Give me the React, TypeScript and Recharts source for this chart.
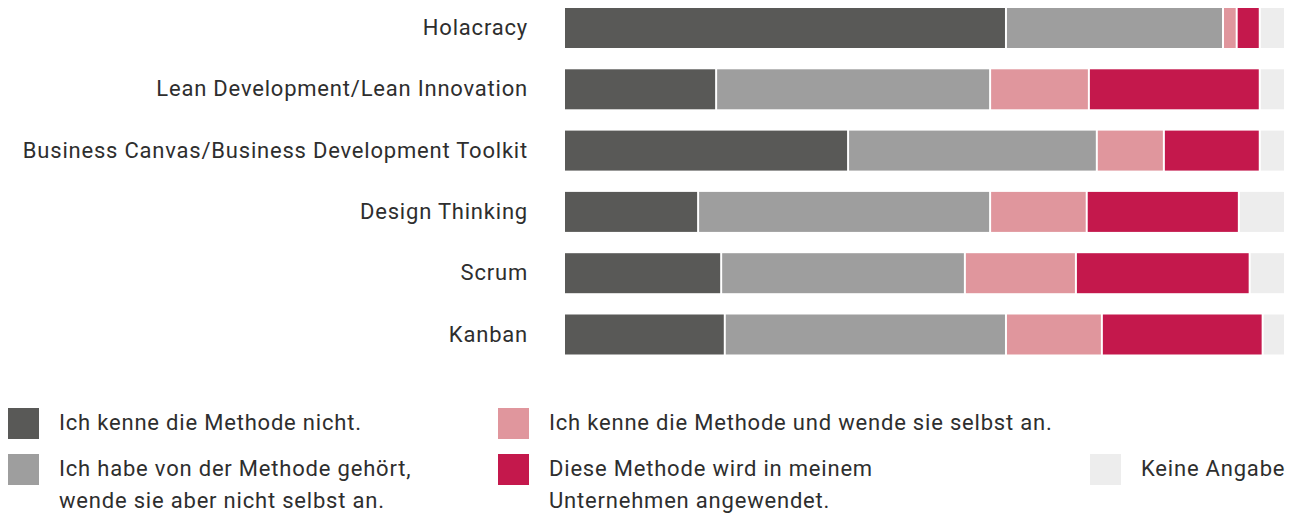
import React from 'react';
import { BarChart, Bar, XAxis, YAxis } from 'recharts';

const categories = [
  'Holacracy',
  'Lean Development/Lean Innovation',
  'Business Canvas/Business Development Toolkit',
  'Design Thinking',
  'Scrum',
  'Kanban',
];

// share of answers in percent, one value per category
const kenneNicht = [61.3, 21.1, 39.4, 18.6, 21.8, 22.3];
const gehoert = [30.1, 38.0, 34.5, 40.5, 33.8, 39.0];
const wendeAn = [1.9, 13.7, 9.3, 13.4, 15.4, 13.3];
const imUnternehmen = [3.2, 23.7, 13.3, 21.1, 24.1, 22.3];
const keineAngabe = [3.5, 3.5, 3.5, 6.4, 4.9, 3.1];

const series = [
  { key: 'kenneNicht', color: '#595957', label: 'Ich kenne die Methode nicht.' },
  { key: 'gehoert', color: '#9e9e9e', label: 'Ich habe von der Methode gehört,\nwende sie aber nicht selbst an.' },
  { key: 'wendeAn', color: '#e0969d', label: 'Ich kenne die Methode und wende sie selbst an.' },
  { key: 'imUnternehmen', color: '#c4184c', label: 'Diese Methode wird in meinem\nUnternehmen angewendet.' },
  { key: 'keineAngabe', color: '#ededed', label: 'Keine Angabe' },
];

const data = categories.map((name, i) => ({
  name,
  kenneNicht: kenneNicht[i],
  gehoert: gehoert[i],
  wendeAn: wendeAn[i],
  imUnternehmen: imUnternehmen[i],
  keineAngabe: keineAngabe[i],
}));

const FONT = 'Roboto, "Noto Sans", sans-serif';
const TEXT = '#2e2e2e';
const SPACING = '0.8px';

// leave a small white gap after every segment
const GapBar = (props: any) => {
  const { x, y, width, height, fill } = props;
  if (!width || width <= 0) return null;
  return <rect x={x} y={y} width={Math.max(0, width - 2)} height={height} fill={fill} />;
};

const CategoryTick = ({ y, payload }: any) => (
  <text
    x={528}
    y={y}
    dy="0.34em"
    textAnchor="end"
    fill={TEXT}
    fontSize={22}
    fontFamily={FONT}
    letterSpacing={SPACING}
  >
    {payload.value}
  </text>
);

const legendPos = [
  { left: 8, top: 408 },
  { left: 8, top: 454 },
  { left: 498, top: 408 },
  { left: 498, top: 454 },
  { left: 1090, top: 454 },
];

export default function App() {
  return (
    <div style={{ position: 'absolute', top: 0, left: 0, width: 1296, height: 515, background: '#fff', fontFamily: FONT }}>
      <div style={{ position: 'absolute', top: -2.65, left: 0 }}>
        <BarChart
          width={1296}
          height={367.8}
          data={data}
          layout="vertical"
          barSize={40}
          margin={{ top: 0, right: 10, bottom: 0, left: 0 }}
        >
          <XAxis type="number" domain={[0, 100]} hide />
          <YAxis
            type="category"
            dataKey="name"
            width={565}
            axisLine={false}
            tickLine={false}
            interval={0}
            tick={<CategoryTick />}
          />
          {series.map((s) => (
            <Bar
              key={s.key}
              dataKey={s.key}
              stackId="a"
              fill={s.color}
              shape={<GapBar />}
              isAnimationActive={false}
            />
          ))}
        </BarChart>
      </div>
      {series.map((s, i) => (
        <div key={s.key} style={{ position: 'absolute', left: legendPos[i].left, top: legendPos[i].top }}>
          <div style={{ position: 'absolute', left: 0, top: 0, width: 31, height: 31, background: s.color }} />
          <div
            style={{
              position: 'absolute',
              left: 51,
              top: -1,
              whiteSpace: 'pre',
              fontSize: 22,
              lineHeight: '32px',
              letterSpacing: SPACING,
              color: TEXT,
            }}
          >
            {s.label}
          </div>
        </div>
      ))}
    </div>
  );
}
